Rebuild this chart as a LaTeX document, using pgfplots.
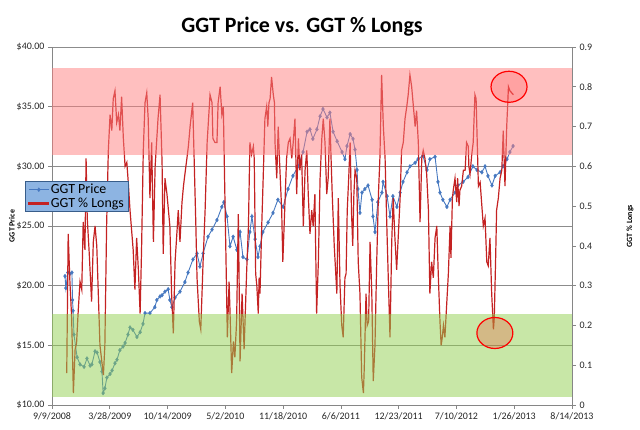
\documentclass[border=0pt]{standalone}
\usepackage{fontspec}
\setmainfont{Carlito}
\usepackage{pgfplots}
\usepackage{pgfplotstable}
\pgfplotsset{compat=1.18}

\definecolor{pricecol}{RGB}{70,120,192}
\definecolor{longcol}{RGB}{196,34,34}
\definecolor{gridcol}{RGB}{140,140,140}
\definecolor{axcol}{RGB}{134,134,134}
\definecolor{redzone}{RGB}{255,128,128}
\definecolor{greenzone}{RGB}{146,208,80}
\definecolor{legfill}{RGB}{141,180,226}
\definecolor{legdraw}{RGB}{56,93,138}

\pgfplotstableread{
day price
45 20.8
48 19.8
55 21.1
62 21.0
69 21.1
71 18.8
73 17.9
76 15.9
87 14.0
97 13.4
111 13.2
121 13.9
132 13.3
138 13.4
149 14.5
156 14.4
166 13.6
173 12.8
177 11.0
183 11.4
190 12.3
201 12.6
208 12.9
218 13.5
225 13.8
235 14.6
246 14.9
253 15.2
263 15.9
270 16.5
280 16.3
294 15.7
305 16.1
315 16.8
322 17.7
339 17.7
356 18.2
363 18.8
374 19.1
381 19.2
391 19.5
402 19.7
408 18.8
415 18.2
426 19.0
443 19.5
460 20.3
471 21.1
488 22.2
502 22.7
512 21.6
523 22.7
540 24.1
554 24.7
571 25.5
588 26.6
595 27.0
606 25.8
616 23.3
627 24.1
640 23.0
651 24.5
661 22.4
675 22.2
685 24.5
692 25.8
703 23.9
713 22.4
720 23.3
730 24.5
748 25.3
765 26.1
782 27.2
800 26.6
817 28.1
834 29.2
852 30.0
869 31.2
883 32.9
893 33.1
903 32.3
917 33.1
928 34.2
938 34.8
952 34.1
962 34.5
973 32.9
987 32.1
1004 31.2
1014 30.6
1021 31.7
1032 32.7
1042 32.3
1049 31.4
1056 29.7
1059 28.1
1066 26.1
1073 27.8
1083 28.1
1094 28.4
1108 27.2
1111 25.8
1118 24.5
1128 27.0
1142 27.8
1146 28.7
1160 27.5
1170 25.8
1180 27.5
1194 26.6
1205 27.8
1215 28.7
1229 29.5
1239 30.0
1257 30.3
1267 30.6
1284 30.9
1298 29.7
1308 30.6
1326 30.8
1336 28.7
1343 27.8
1353 27.2
1367 26.6
1378 27.2
1395 27.8
1405 28.4
1423 28.7
1440 29.1
1457 30.0
1471 29.7
1488 29.5
1499 30.0
1509 29.2
1523 28.4
1534 29.2
1551 29.5
1561 30.0
1575 30.6
1585 31.2
1596 31.7
}\pricetable

\pgfplotstableread{
day longs
51 0.08
56 0.43
62 0.31
68 0.22
74 0.03
80 0.14
85 0.155
91 0.24
97 0.31
103 0.29
108 0.46
114 0.39
118 0.62
122 0.47
129 0.38
137 0.26
143 0.41
149 0.45
155 0.40
166 0.15
178 0.075
183 0.15
189 0.45
195 0.64
201 0.73
207 0.69
212 0.77
218 0.79
224 0.71
230 0.73
235 0.69
241 0.775
247 0.67
253 0.60
259 0.61
264 0.56
270 0.49
281 0.39
287 0.29
293 0.42
299 0.34
305 0.23
310 0.39
316 0.64
322 0.76
328 0.785
333 0.72
339 0.52
345 0.66
351 0.41
357 0.60
367 0.72
374 0.78
381 0.61
385 0.38
391 0.57
398 0.53
408 0.45
414 0.28
420 0.18
426 0.36
433 0.44
437 0.49
443 0.41
450 0.51
455 0.55
460 0.58
467 0.62
472 0.65
478 0.70
487 0.76
492 0.62
498 0.45
502 0.32
510 0.21
515 0.19
523 0.36
530 0.49
537 0.66
547 0.78
554 0.76
557 0.67
564 0.66
571 0.66
575 0.76
582 0.80
588 0.73
593 0.75
602 0.38
607 0.17
613 0.31
616 0.24
622 0.08
628 0.16
633 0.12
639 0.21
645 0.48
651 0.11
658 0.28
665 0.14
674 0.34
680 0.45
685 0.66
691 0.63
697 0.65
700 0.62
705 0.33
709 0.30
714 0.23
717 0.32
720 0.28
726 0.45
731 0.57
737 0.72
743 0.75
747 0.70
751 0.76
755 0.77
760 0.825
766 0.78
770 0.76
772 0.66
778 0.57
783 0.70
789 0.59
795 0.49
799 0.36
804 0.46
812 0.62
818 0.66
824 0.67
830 0.62
835 0.66
841 0.72
847 0.53
853 0.67
858 0.59
864 0.63
870 0.45
876 0.59
882 0.64
887 0.53
893 0.43
899 0.49
904 0.45
910 0.53
916 0.23
922 0.36
928 0.57
934 0.67
939 0.72
945 0.66
951 0.53
956 0.57
962 0.72
966 0.62
970 0.53
977 0.40
986 0.28
991 0.52
997 0.30
1003 0.20
1008 0.17
1014 0.32
1018 0.33
1022 0.49
1027 0.57
1032 0.66
1037 0.48
1041 0.40
1045 0.53
1049 0.59
1055 0.57
1060 0.36
1066 0.28
1072 0.07
1078 0.03
1081 0.095
1087 0.28
1091 0.20
1096 0.21
1101 0.41
1107 0.28
1112 0.06
1118 0.15
1124 0.36
1130 0.53
1135 0.62
1141 0.83
1147 0.70
1153 0.62
1159 0.45
1164 0.32
1170 0.17
1176 0.41
1181 0.52
1187 0.42
1193 0.34
1199 0.43
1205 0.52
1210 0.64
1216 0.66
1222 0.72
1228 0.75
1233 0.78
1239 0.83
1245 0.80
1251 0.75
1257 0.70
1262 0.74
1268 0.66
1274 0.46
1280 0.62
1285 0.64
1291 0.62
1297 0.58
1303 0.49
1308 0.28
1314 0.36
1320 0.32
1326 0.42
1332 0.45
1337 0.33
1343 0.21
1347 0.15
1351 0.17
1355 0.20
1360 0.17
1366 0.25
1372 0.33
1378 0.45
1381 0.37
1386 0.52
1389 0.54
1395 0.57
1401 0.51
1404 0.57
1409 0.50
1412 0.54
1418 0.55
1424 0.59
1430 0.59
1435 0.66
1441 0.65
1443 0.60
1447 0.58
1453 0.63
1458 0.66
1464 0.78
1468 0.77
1472 0.66
1476 0.55
1482 0.56
1487 0.51
1493 0.45
1499 0.47
1505 0.36
1510 0.35
1516 0.42
1522 0.28
1528 0.19
1531 0.22
1536 0.38
1539 0.49
1545 0.52
1551 0.57
1557 0.59
1562 0.69
1568 0.55
1574 0.70
1580 0.80
1585 0.79
1591 0.785
1597 0.78
}\longstable

\pgfplotsset{
  common/.style={
    at={(52bp,25bp)}, anchor=south west,
    scale only axis, width=520bp, height=358bp,
    xmin=0, xmax=1800,
    tick align=outside,
    major tick length=4bp,
    tick style={draw=axcol, line width=0.6bp},
    axis line style={-, draw=axcol, line width=0.8bp},
    tick label style={font=\fontsize{10}{12}\selectfont, text=black!85},
    /pgf/number format/assume math mode=true,
    clip=true,
  },
  pricestyle/.style={color=pricecol, line width=0.9bp, mark=diamond*, mark size=1.9bp, mark options={fill=pricecol, draw=pricecol, line width=0.4bp}},
  longstyle/.style={color=longcol, draw=longcol, line width=1.2bp, no marks},
}

\begin{document}
\begin{tikzpicture}
\path (0bp,0bp) rectangle (640bp,430bp);

\begin{axis}[common,
  ymin=10, ymax=40,
  axis x line*=bottom, axis y line*=left,
  xtick={0,200,400,600,800,1000,1200,1400,1600,1800},
  xticklabels={9/9/2008,3/28/2009,10/14/2009,5/2/2010,11/18/2010,6/6/2011,12/23/2011,7/10/2012,1/26/2013,8/14/2013},
  ytick={10,15,20,25,30,35,40},
  yticklabel={\$\pgfmathprintnumber[fixed,fixed zerofill,precision=2]{\tick}},
  ymajorgrids, grid style={draw=gridcol, line width=0.6bp},
  ylabel={GGT Price},
  every axis y label/.style={at={(axis description cs:-0.077,0.5)}, rotate=90, anchor=center, font=\bfseries\fontsize{8}{9}\selectfont},
]
\addplot[pricestyle] table[x=day, y=price] {\pricetable};
\end{axis}

\begin{axis}[common,
  ymin=0, ymax=0.9,
  axis x line=none, axis y line*=right,
  ytick={0,0.1,0.2,0.3,0.4,0.5,0.6,0.7,0.8,0.9},
  yticklabels={0,0.1,0.2,0.3,0.4,0.5,0.6,0.7,0.8,0.9},
  ylabel={GGT \% Longs},
  every axis y label/.style={at={(axis description cs:1.1115,0.5)}, rotate=90, anchor=center, font=\bfseries\fontsize{8}{9}\selectfont},
  legend style={at={(axis description cs:-0.052,0.625)}, anchor=north west,
    fill=legfill, draw=legdraw, line width=0.8bp,
    font=\fontsize{14}{15}\selectfont, inner xsep=3bp, inner ysep=1bp,
    row sep=0bp, nodes={inner sep=1.5bp}},
  legend cell align=left,
  legend image code/.code={\draw[mark repeat=2, mark phase=2, #1] plot coordinates {(0bp,0bp) (10bp,0bp) (20bp,0bp)};},
]
\addlegendimage{pricestyle}
\addlegendentry{GGT Price}
\addlegendimage{legend image code/.code={\fill[longcol] (0bp,-0.9bp) rectangle (20bp,0.9bp);}}
\addlegendentry{GGT \% Longs}
\addplot[longstyle, forget plot] table[x=day, y=longs] {\longstable};
\fill[redzone, opacity=0.5] (axis cs:0,0.628) rectangle (axis cs:1800,0.847);
\fill[greenzone, opacity=0.5] (axis cs:0,0.02) rectangle (axis cs:1800,0.229);
\draw[red, line width=1.2bp, fill=red, fill opacity=0.15] (axis cs:1582,0.80) ellipse [x radius=18bp, y radius=15.5bp];
\draw[red, line width=1.2bp, fill=red, fill opacity=0.2] (axis cs:1533,0.181) ellipse [x radius=18bp, y radius=15.5bp];
\end{axis}

\node[anchor=base, font=\bfseries\fontsize{22}{26}\selectfont] at (302bp,397bp) {GGT Price vs. GGT \% Longs};
\end{tikzpicture}
\end{document}
